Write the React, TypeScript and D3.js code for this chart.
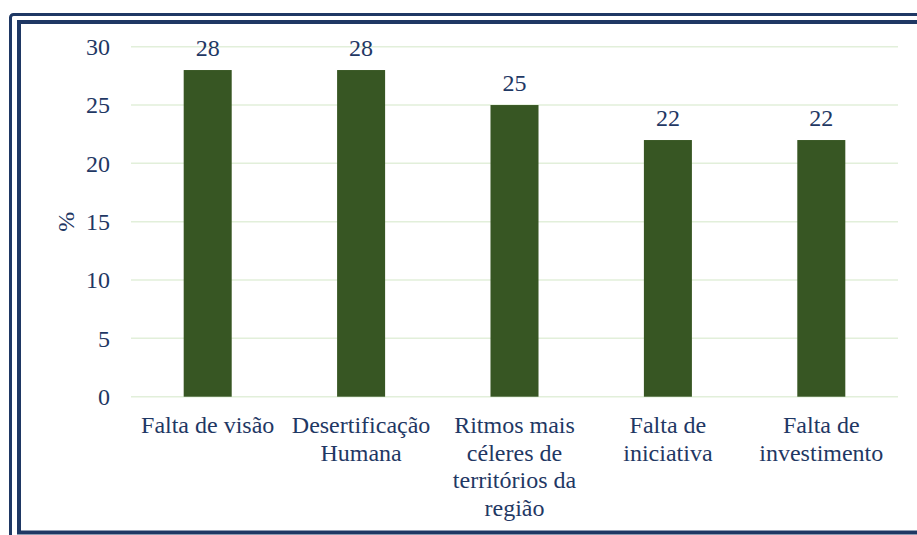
import * as d3 from 'd3';

const categories = ['Falta de visão', 'Desertificação Humana', 'Ritmos mais céleres de territórios da região', 'Falta de iniciativa', 'Falta de investimento'];
const categoryLines = [
  ['Falta de visão'],
  ['Desertificação', 'Humana'],
  ['Ritmos mais', 'céleres de', 'territórios da', 'região'],
  ['Falta de', 'iniciativa'],
  ['Falta de', 'investimento'],
];
const values = [28, 28, 25, 22, 22];
const yTicks = [0, 5, 10, 15, 20, 25, 30];

const WIDTH = 917;
const HEIGHT = 535;
const PLOT = { left: 131, right: 898, top: 46.7, bottom: 396.7 };
const NAVY = '#1F3864';
const BAR = '#375623';
const GRID = '#E2EFDA';
const FS = 24;

export default function App() {
  const x = d3.scaleBand<string>().domain(categories).range([PLOT.left, PLOT.right]).padding(0);
  const y = d3.scaleLinear().domain([0, 30]).range([PLOT.bottom, PLOT.top]);
  const barW = x.bandwidth() * 0.313;

  return (
    <svg width={WIDTH} height={HEIGHT} style={{ position: 'absolute', left: 0, top: 0, background: '#fff', fontFamily: 'Liberation Serif' }}>
      {/* frame */}
      <rect x={10.5} y={14.5} width={1000} height={600} rx={3} fill="none" stroke={NAVY} strokeWidth={3} />
      <rect x={19} y={22} width={1000} height={510.5} fill="none" stroke={NAVY} strokeWidth={4} />

      <g fill={NAVY} fontSize={FS}>
        {yTicks.map((t) => (
          <g key={t}>
            <line x1={PLOT.left} x2={PLOT.right} y1={y(t)} y2={y(t)} stroke={GRID} strokeWidth={1.5} />
            <text x={110} y={y(t)} dy="0.35em" textAnchor="end">
              {t}
            </text>
          </g>
        ))}

        <text transform={`translate(66, ${(PLOT.top + PLOT.bottom) / 2}) rotate(-90)`} textAnchor="middle" dy="0.35em">
          %
        </text>

        {categories.map((c, i) => {
          const cx = (x(c) ?? 0) + x.bandwidth() / 2;
          return (
            <g key={c}>
              <rect x={cx - barW / 2} y={y(values[i])} width={barW} height={y(0) - y(values[i])} fill={BAR} />
              <text x={cx} y={y(values[i]) - 14} textAnchor="middle">
                {values[i]}
              </text>
              <text textAnchor="middle">
                {categoryLines[i].map((line, j) => (
                  <tspan key={j} x={cx} y={433 + j * 27.5}>
                    {line}
                  </tspan>
                ))}
              </text>
            </g>
          );
        })}
      </g>
    </svg>
  );
}
